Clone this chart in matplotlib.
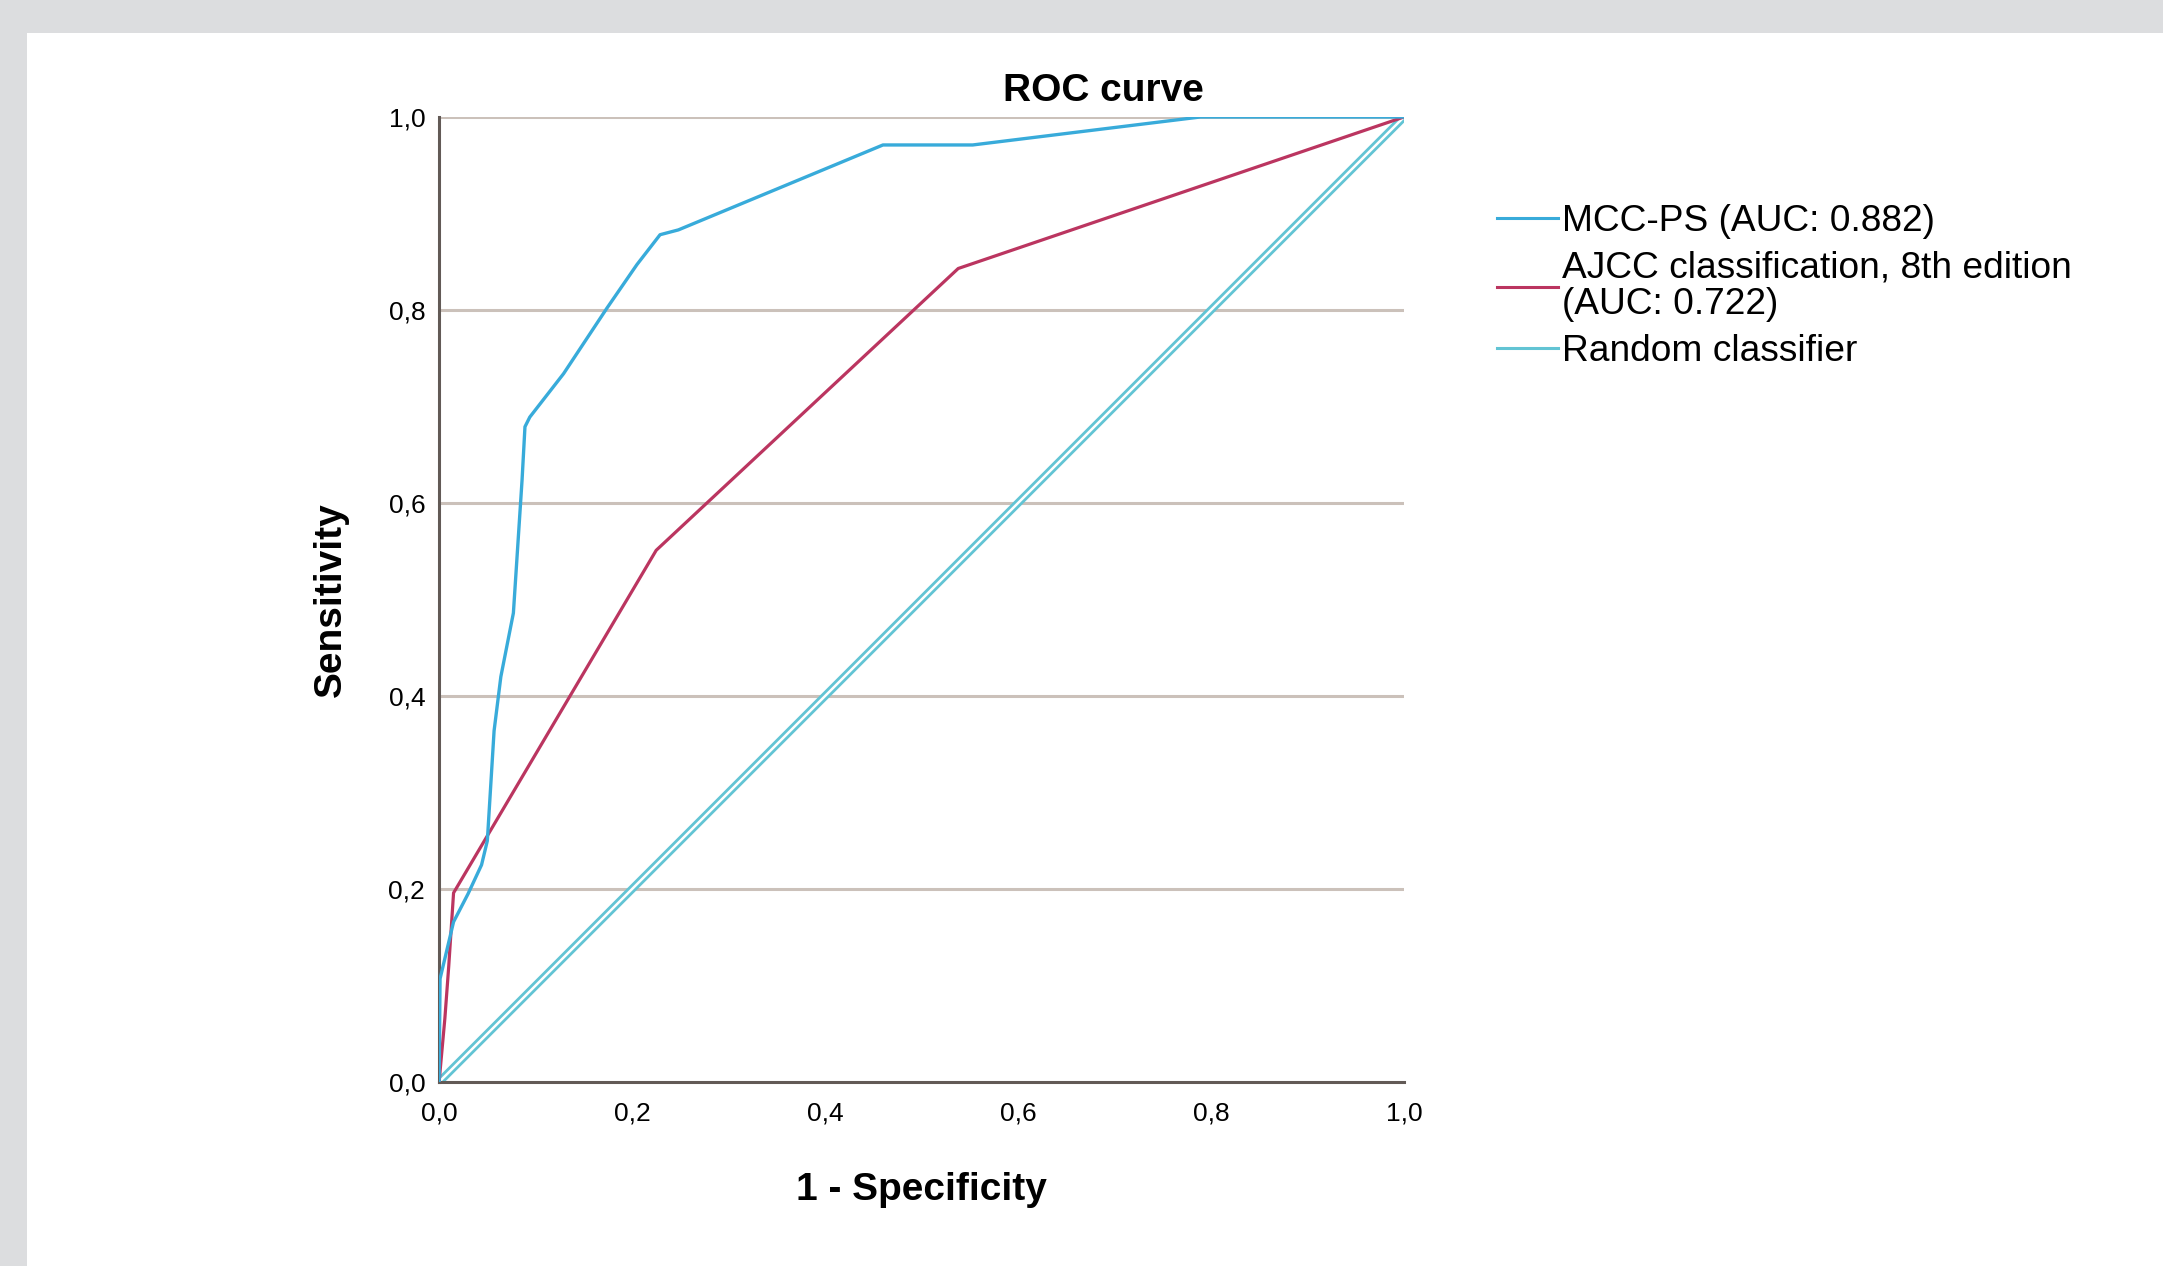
import matplotlib
matplotlib.use("Agg")
import matplotlib.pyplot as plt
from matplotlib.lines import Line2D
from matplotlib.patches import Rectangle
import matplotlib.patheffects as pe

plt.rcParams['font.family'] = ['Liberation Sans', 'DejaVu Sans']

# ROC points (1 - specificity, sensitivity)
mcc_fpr = [0.0, 0.001, 0.015, 0.03, 0.044, 0.05, 0.057, 0.064, 0.077, 0.086,
           0.089, 0.094, 0.129, 0.174, 0.205, 0.229, 0.248, 0.46, 0.553, 0.789, 1.0]
mcc_tpr = [0.0, 0.107, 0.166, 0.195, 0.225, 0.25, 0.364, 0.42, 0.486, 0.624,
           0.679, 0.689, 0.734, 0.802, 0.847, 0.878, 0.883, 0.971, 0.971, 1.0, 1.0]

ajcc_fpr = [0.0, 0.006, 0.01, 0.015, 0.225, 0.538, 1.0]
ajcc_tpr = [0.0, 0.066, 0.12, 0.196, 0.551, 0.843, 1.0]

diag = [0.0, 1.0]

labels = ["MCC-PS (AUC: 0.882)",
          "AJCC classification, 8th edition\n(AUC: 0.722)",
          "Random classifier"]
ticks = [0.0, 0.2, 0.4, 0.6, 0.8, 1.0]
tick_labels = ["0,0", "0,2", "0,4", "0,6", "0,8", "1,0"]

blue = "#38abda"
red = "#bb3560"
teal = "#62c4d4"
grid_c = "#cbc1ba"
spine_c = "#625a56"

fig = plt.figure(figsize=(21.63, 12.66), dpi=100)
fig.patch.set_facecolor("white")
# grey frame strips at top and left
fig.patches.append(Rectangle((0, 1 - 33 / 1266), 1, 33 / 1266, transform=fig.transFigure,
                             facecolor="#dcdddf", edgecolor="none"))
fig.patches.append(Rectangle((0, 0), 27 / 2163, 1, transform=fig.transFigure,
                             facecolor="#dcdddf", edgecolor="none"))

ax = fig.add_axes([0.2030, 0.1453, 0.4461, 0.7623])
ax.set_xlim(0, 1)
ax.set_ylim(0, 1)

for t in ticks[1:]:
    ax.axhline(t, color=grid_c, lw=2.2, zorder=1)

ax.plot(diag, diag, color="white", lw=1.8, zorder=2,
        path_effects=[pe.Stroke(linewidth=5.8, foreground=teal), pe.Normal()])
ax.plot(ajcc_fpr, ajcc_tpr, color=red, lw=2.3, zorder=3)
ax.plot(mcc_fpr, mcc_tpr, color=blue, lw=2.4, zorder=4)

for s in ["top", "right"]:
    ax.spines[s].set_visible(False)
for s in ["left", "bottom"]:
    ax.spines[s].set_color(spine_c)
    ax.spines[s].set_linewidth(2.2)

ax.set_xticks(ticks)
ax.set_xticklabels(tick_labels)
ax.set_yticks(ticks)
ax.set_yticklabels(tick_labels)
ax.tick_params(axis="x", length=0, pad=14, labelsize=19)
ax.tick_params(axis="y", length=0, pad=10, labelsize=19)

ax.set_xlabel("1 - Specificity", fontsize=28, fontweight="bold", va="center")
ax.xaxis.set_label_coords(0.5, -0.112)
ax.set_ylabel("Sensitivity", fontsize=28, fontweight="bold", va="center")
ax.yaxis.set_label_coords(-0.112, 0.5)

ax.set_title("ROC curve", fontsize=28, fontweight="bold", x=0.689, y=1.027,
             va="center", pad=0)

handles = [Line2D([], [], color=blue, lw=2.2),
           Line2D([], [], color=red, lw=2.2),
           Line2D([], [], color=teal, lw=2.2)]
leg = fig.legend(handles, labels, loc="upper left", bbox_to_anchor=(0.692, 0.839),
                 frameon=False, fontsize=26.7, handlelength=1.65, handletextpad=0.1,
                 labelspacing=0.32, borderpad=0, borderaxespad=0)
for t in leg.get_texts():
    t.set_linespacing(1.05)

fig.savefig("out.png", dpi=100)
